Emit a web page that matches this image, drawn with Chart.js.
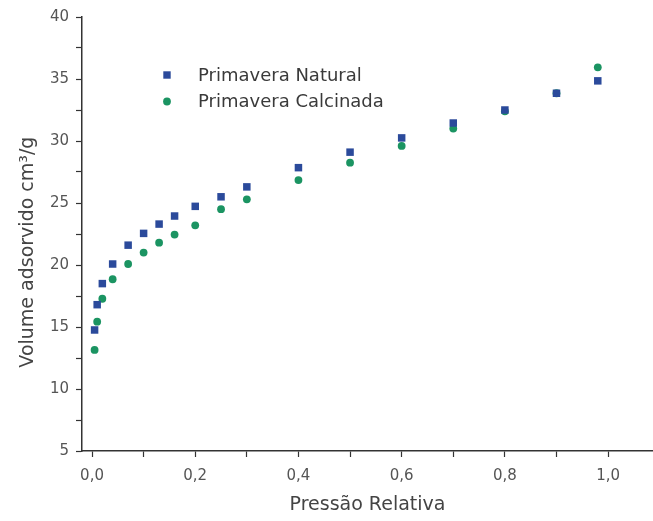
<!DOCTYPE html>
<html>
<head>
<meta charset="utf-8">
<title>Isoterma de adsorção</title>
<script src="https://cdn.jsdelivr.net/npm/chart.js@4.4.1/dist/chart.umd.min.js"></script>
<style>
  html, body { margin: 0; padding: 0; background: #fff; overflow: hidden; }
  #wrap { width: 653px; height: 521px; }
  #isoChart { display: block; }
</style>
</head>
<body>
<div id="wrap"><canvas id="isoChart" width="653" height="521"></canvas></div>
<script>
// Data
const pressure = [0.005, 0.01, 0.02, 0.04, 0.07, 0.1, 0.13, 0.16, 0.2, 0.25, 0.3, 0.4, 0.5, 0.6, 0.7, 0.8, 0.9, 0.98];
const natural = [14.76, 16.8, 18.5, 20.08, 21.6, 22.55, 23.3, 23.95, 24.73, 25.5, 26.3, 27.85, 29.1, 30.25, 31.45, 32.5, 33.85, 34.85];
const calcinada = [13.15, 15.43, 17.28, 18.85, 20.08, 21.0, 21.8, 22.45, 23.2, 24.5, 25.3, 26.85, 28.25, 29.6, 31.0, 32.4, 33.85, 35.94];
const seriesNames = ['Primavera Natural', 'Primavera Calcinada'];

const BLUE = '#2b4a9b';
const GREEN = '#1b9462';
const AXIS = '#333333';
const FONT = "'DejaVu Sans', sans-serif";

function toPoints(xs, ys) {
  return xs.map((x, i) => ({ x: x, y: ys[i] }));
}

// Legend drawn inside the plot area, like the original figure
const innerLegend = {
  id: 'innerLegend',
  afterDatasetsDraw(chart) {
    const ctx = chart.ctx;
    const items = [
      { name: seriesNames[0], color: BLUE, style: 'rect', y: 75 },
      { name: seriesNames[1], color: GREEN, style: 'circle', y: 101.5 }
    ];
    ctx.save();
    ctx.font = '18px ' + FONT;
    ctx.textBaseline = 'middle';
    ctx.textAlign = 'left';
    items.forEach(it => {
      ctx.fillStyle = it.color;
      if (it.style === 'rect') {
        ctx.fillRect(167 - 3.7, it.y - 3.7, 7.4, 7.4);
      } else {
        ctx.beginPath();
        ctx.arc(167, it.y, 3.9, 0, Math.PI * 2);
        ctx.fill();
      }
      ctx.fillStyle = '#3a3a3a';
      ctx.fillText(it.name, 198, it.y + 1);
    });
    ctx.restore();
  }
};

const ctx = document.getElementById('isoChart').getContext('2d');

new Chart(ctx, {
  type: 'scatter',
  data: {
    datasets: [
      {
        label: seriesNames[0],
        data: toPoints(pressure, natural),
        pointStyle: 'rect',
        pointRadius: 5.3,
        pointHoverRadius: 5.3,
        backgroundColor: BLUE,
        borderColor: BLUE,
        borderWidth: 0
      },
      {
        label: seriesNames[1],
        data: toPoints(pressure, calcinada),
        pointStyle: 'circle',
        pointRadius: 3.9,
        pointHoverRadius: 3.9,
        backgroundColor: GREEN,
        borderColor: GREEN,
        borderWidth: 0
      }
    ]
  },
  options: {
    responsive: false,
    animation: false,
    // no automatic padding, the axis runs to the right edge of the figure
    layout: { autoPadding: false, padding: { top: 17, right: 0, left: 0, bottom: 0 } },
    plugins: {
      legend: { display: false },
      tooltip: { enabled: false }
    },
    scales: {
      x: {
        type: 'linear',
        min: -0.0194,
        max: 1.087,
        afterFit: (scale) => { scale.height = 70; },
        border: { display: true, color: AXIS, width: 1.5 },
        grid: { drawOnChartArea: false, drawTicks: true, tickLength: 6, tickColor: AXIS, tickWidth: 1.2 },
        ticks: {
          stepSize: 0.1,
          includeBounds: false,
          autoSkip: false,
          maxRotation: 0,
          padding: 10,
          color: '#555',
          font: { family: FONT, size: 15 },
          callback: (v) => (Math.round(v * 10) % 2 === 0 ? v.toFixed(1).replace('.', ',') : '')
        },
        title: {
          display: true,
          text: 'Pressão Relativa',
          color: '#444',
          font: { family: FONT, size: 19 },
          padding: { top: 0, bottom: 5 }
        }
      },
      y: {
        type: 'linear',
        min: 5,
        max: 40,
        afterFit: (scale) => { scale.width = 82; },
        border: { display: true, color: AXIS, width: 1.5 },
        grid: { drawOnChartArea: false, drawTicks: true, tickLength: 6, tickColor: AXIS, tickWidth: 1.2 },
        ticks: {
          stepSize: 2.5,
          includeBounds: false,
          autoSkip: false,
          padding: 7,
          color: '#555',
          font: { family: FONT, size: 15 },
          callback: (v) => (v % 5 === 0 ? String(v) : '')
        },
        title: {
          display: true,
          // trailing spaces push the label down a little, as in the figure
          text: 'Volume adsorvido cm³/g      ',
          color: '#444',
          font: { family: FONT, size: 19 },
          padding: { top: 17, bottom: 0 }
        }
      }
    }
  },
  plugins: [innerLegend]
});
</script>
</body>
</html>
